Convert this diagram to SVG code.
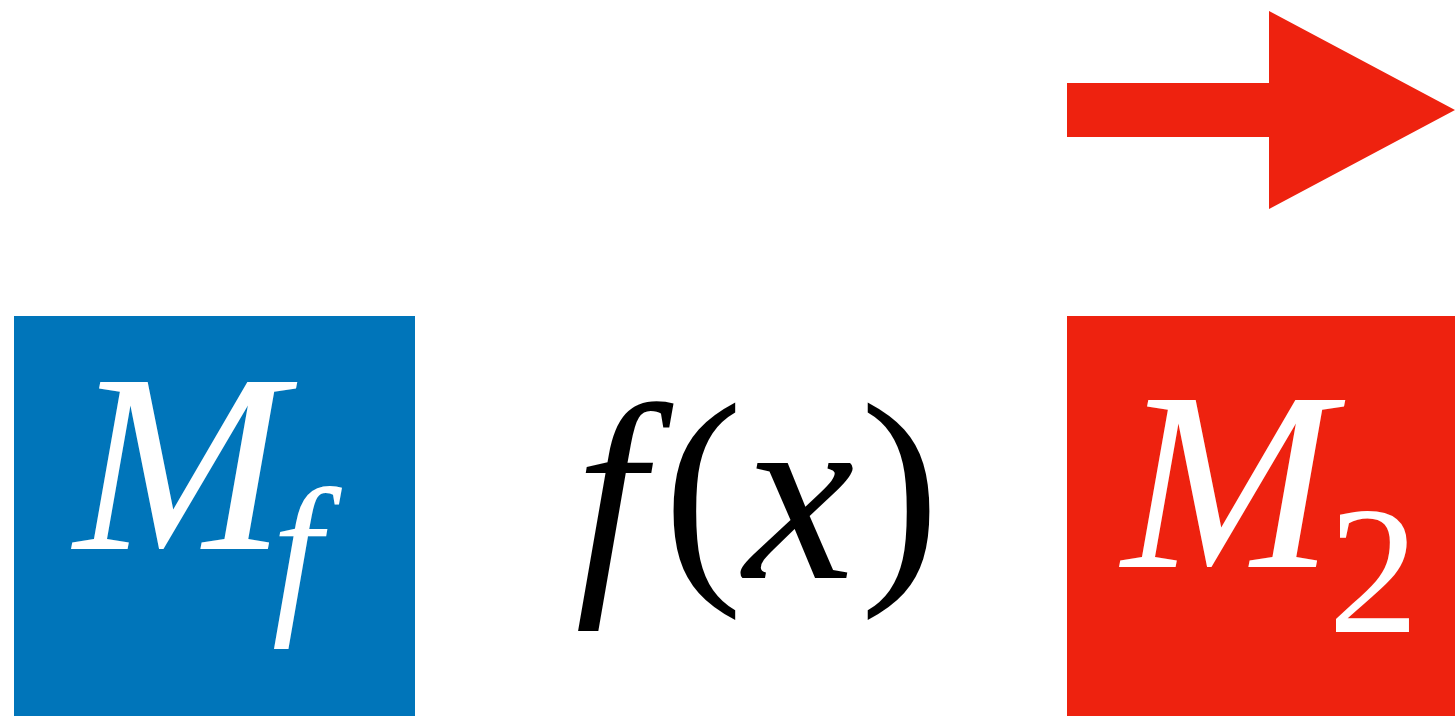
<svg xmlns="http://www.w3.org/2000/svg" width="1455" height="716" viewBox="0 0 1455 716">
<style>
.serif{font-family:"Liberation Serif","DejaVu Serif",serif}
.it{font-style:italic}
.w{fill:#ffffff}
.k{fill:#000000}
</style>
<rect width="1455" height="716" fill="#ffffff"/>
<g id="node-mf">
<rect x="14" y="316" width="401" height="400" fill="#0075BA"/>
<text class="serif it w" x="74" y="549" font-size="254">M<tspan x="272" y="611" font-size="178">f</tspan></text>
</g>
<g id="node-fx">
<text class="serif it k" font-size="250" text-anchor="middle"><tspan x="610" y="578">f</tspan><tspan x="703" y="569" font-size="240" font-style="normal">(</tspan><tspan x="799" y="578">x</tspan><tspan x="900" y="569" font-size="240" font-style="normal">)</tspan></text>
</g>
<g id="node-m2">
<rect x="1067" y="316" width="388" height="400" fill="#EE220F"/>
<text class="serif it w" x="1122" y="567" font-size="254">M<tspan x="1328" y="632" font-size="182" font-style="normal">2</tspan></text>
</g>
<g id="connectors">
<polygon points="1067,83 1269,83 1269,11 1455,110 1269,209 1269,137 1067,137" fill="#EE220F"/>
</g>
</svg>
